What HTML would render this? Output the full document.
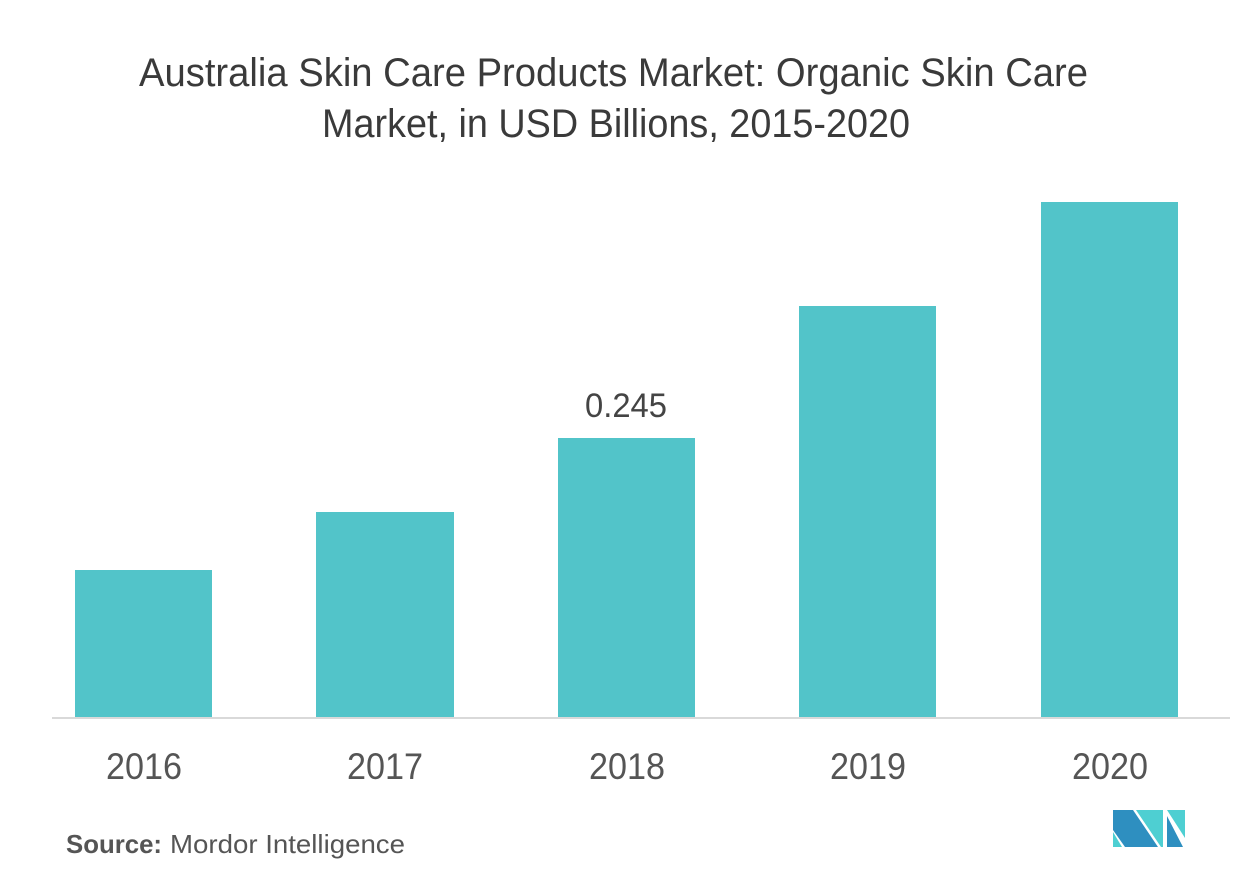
<!DOCTYPE html>
<html>
<head>
<meta charset="utf-8">
<style>
  html, body { margin: 0; padding: 0; background: #ffffff; }
  body { width: 1253px; height: 880px; overflow: hidden; }
  svg { display: block; }
  text { font-family: "Liberation Sans", sans-serif; }
</style>
</head>
<body>
<svg width="1253" height="880" viewBox="0 0 1253 880" xmlns="http://www.w3.org/2000/svg">
  <rect x="0" y="0" width="1253" height="880" fill="#ffffff"/>

  <!-- Title -->
  <text x="139" y="86" font-size="40" fill="#3a3a3a" textLength="949" lengthAdjust="spacingAndGlyphs">Australia Skin Care Products Market: Organic Skin Care</text>
  <text x="322" y="137" font-size="40" fill="#3a3a3a" textLength="588" lengthAdjust="spacingAndGlyphs">Market, in USD Billions,  2015-2020</text>

  <!-- Bars -->
  <rect x="75" y="570" width="137" height="148" fill="#52c4c9"/>
  <rect x="316" y="512" width="138" height="206" fill="#52c4c9"/>
  <rect x="558" y="438" width="137" height="280" fill="#52c4c9"/>
  <rect x="799" y="306" width="137" height="412" fill="#52c4c9"/>
  <rect x="1041" y="202" width="137" height="516" fill="#52c4c9"/>

  <!-- Axis line -->
  <rect x="52" y="717" width="1178" height="2" fill="#d9d9d9"/>

  <!-- Value label -->
  <text x="585" y="417" font-size="34" fill="#444444" textLength="82" lengthAdjust="spacingAndGlyphs">0.245</text>

  <!-- Year labels -->
  <text x="106" y="779" font-size="37" fill="#555555" textLength="76" lengthAdjust="spacingAndGlyphs">2016</text>
  <text x="347" y="779" font-size="37" fill="#555555" textLength="76" lengthAdjust="spacingAndGlyphs">2017</text>
  <text x="589" y="779" font-size="37" fill="#555555" textLength="76" lengthAdjust="spacingAndGlyphs">2018</text>
  <text x="830" y="779" font-size="37" fill="#555555" textLength="76" lengthAdjust="spacingAndGlyphs">2019</text>
  <text x="1072" y="779" font-size="37" fill="#555555" textLength="76" lengthAdjust="spacingAndGlyphs">2020</text>

  <!-- Source -->
  <text x="66" y="853" font-size="26" fill="#555555" font-weight="bold" textLength="96" lengthAdjust="spacingAndGlyphs">Source:</text>
  <text x="170" y="853" font-size="26" fill="#555555" textLength="235" lengthAdjust="spacingAndGlyphs">Mordor Intelligence</text>

  <!-- Logo -->
  <g>
    <polygon points="1113,810 1133,810 1158,847 1125,847 1113,830" fill="#2e8fc0"/>
    <polygon points="1113,832 1113,847 1122,847" fill="#4ecfd2"/>
    <polygon points="1136,810 1163,810 1163,847 1161,847" fill="#4ecfd2"/>
    <polygon points="1167,816 1183,847 1167,847" fill="#2e8fc0"/>
    <polygon points="1167,810 1185,810 1185,838" fill="#4ecfd2"/>
  </g>
</svg>
</body>
</html>
